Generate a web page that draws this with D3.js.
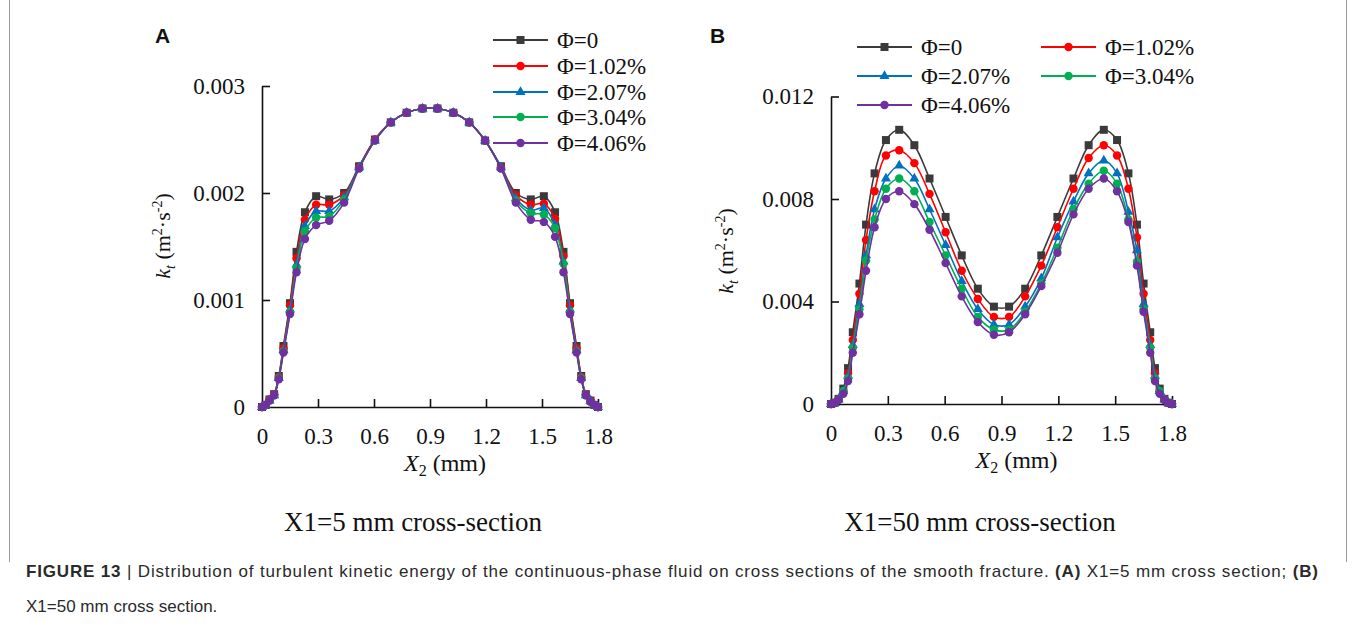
<!DOCTYPE html>
<html>
<head>
<meta charset="utf-8">
<script src="https://cdn.jsdelivr.net/npm/d3@7"></script>
<style>
  body { margin: 0; background: #fff; }
  svg { display: block; }
</style>
</head>
<body>
<div id="fig"></div>
<script>
// X2 positions (mm) shared by both cross-sections
const xGrid = [0, 0.02, 0.04, 0.065, 0.09, 0.115, 0.15, 0.185, 0.23, 0.29, 0.36, 0.44, 0.52, 0.605, 0.69, 0.775, 0.86,
               0.94, 1.025, 1.11, 1.195, 1.28, 1.36, 1.44, 1.51, 1.57, 1.615, 1.65, 1.685, 1.71, 1.735, 1.76, 1.78, 1.8];

const seriesNames = ["Φ=0", "Φ=1.02%", "Φ=2.07%", "Φ=3.04%", "Φ=4.06%"];
const seriesColors = ["#3a3a3a", "#ff0000", "#0070c0", "#00b050", "#7030a0"];
const seriesSymbols = ["square", "circle", "triangle", "circle", "circle"];

// panel A : X1 = 5 mm
const a_phi0   = [0, 0.00002, 0.00007, 0.00012, 0.00029, 0.00057, 0.00097, 0.00145, 0.00182, 0.00197, 0.00194, 0.00200, 0.00225, 0.00250, 0.00266, 0.00275, 0.00279,
                  0.00279, 0.00275, 0.00266, 0.00249, 0.00225, 0.00200, 0.00194, 0.00197, 0.00182, 0.00145, 0.00097, 0.00057, 0.00029, 0.00012, 0.00006, 0.00002, 0];
const a_phi102 = [0, 0.00002, 0.00007, 0.00012, 0.00028, 0.00055, 0.00095, 0.00139, 0.00175, 0.00189, 0.00189, 0.00198, 0.00224, 0.00250, 0.00266, 0.00275, 0.00279,
                  0.00279, 0.00275, 0.00266, 0.00249, 0.00224, 0.00198, 0.00189, 0.00190, 0.00176, 0.00141, 0.00095, 0.00055, 0.00028, 0.00012, 0.00006, 0.00002, 0];
const a_phi207 = [0, 0.00002, 0.00006, 0.00011, 0.00027, 0.00053, 0.00091, 0.00133, 0.00169, 0.00183, 0.00183, 0.00196, 0.00224, 0.00249, 0.00266, 0.00275, 0.00279,
                  0.00279, 0.00275, 0.00266, 0.00249, 0.00224, 0.00195, 0.00184, 0.00186, 0.00170, 0.00136, 0.00091, 0.00053, 0.00027, 0.00011, 0.00006, 0.00002, 0];
const a_phi304 = [0, 0.00002, 0.00006, 0.00011, 0.00027, 0.00052, 0.00089, 0.00130, 0.00164, 0.00177, 0.00178, 0.00194, 0.00223, 0.00249, 0.00266, 0.00275, 0.00279,
                  0.00279, 0.00275, 0.00266, 0.00249, 0.00223, 0.00193, 0.00181, 0.00180, 0.00167, 0.00134, 0.00089, 0.00052, 0.00027, 0.00011, 0.00005, 0.00002, 0];
const a_phi406 = [0, 0.00002, 0.00006, 0.00011, 0.00026, 0.00051, 0.00087, 0.00126, 0.00157, 0.00170, 0.00174, 0.00191, 0.00223, 0.00249, 0.00266, 0.00275, 0.00279,
                  0.00279, 0.00275, 0.00266, 0.00249, 0.00223, 0.00191, 0.00175, 0.00173, 0.00159, 0.00126, 0.00087, 0.00051, 0.00026, 0.00011, 0.00005, 0.00002, 0];

// panel B : X1 = 50 mm
const b_phi0   = [0, 0.00005, 0.0002, 0.0006, 0.0014, 0.0028, 0.0047, 0.0070, 0.0090, 0.0103, 0.0107, 0.0101, 0.0088, 0.0073, 0.0058, 0.0045, 0.0038,
                  0.0038, 0.0045, 0.0058, 0.0073, 0.0088, 0.0101, 0.0107, 0.0103, 0.0090, 0.0070, 0.0047, 0.0028, 0.0014, 0.0006, 0.0002, 0.00005, 0];
const b_phi102 = [0, 0.00005, 0.0002, 0.0005, 0.0012, 0.0025, 0.0043, 0.0064, 0.0083, 0.0097, 0.0099, 0.0094, 0.0082, 0.0067, 0.0052, 0.0041, 0.0034,
                  0.0034, 0.0042, 0.0054, 0.0069, 0.0084, 0.0096, 0.0101, 0.0097, 0.0084, 0.0065, 0.0043, 0.0025, 0.0012, 0.0005, 0.0002, 0.00005, 0];
const b_phi207 = [0, 0.00004, 0.00018, 0.0005, 0.0011, 0.0023, 0.0039, 0.0058, 0.0076, 0.0088, 0.0093, 0.0088, 0.0076, 0.0062, 0.0048, 0.0037, 0.0031,
                  0.0031, 0.0038, 0.0049, 0.0065, 0.0079, 0.0090, 0.0095, 0.0090, 0.0075, 0.0060, 0.0039, 0.0023, 0.0011, 0.0005, 0.00018, 0.00004, 0];
const b_phi304 = [0, 0.00004, 0.00017, 0.0005, 0.0010, 0.0022, 0.0037, 0.0056, 0.0072, 0.0084, 0.0088, 0.0083, 0.0071, 0.0058, 0.0045, 0.0034, 0.0029,
                  0.0029, 0.0036, 0.0047, 0.0061, 0.0076, 0.0086, 0.0091, 0.0086, 0.0072, 0.00555, 0.0037, 0.0022, 0.0010, 0.0005, 0.00017, 0.00004, 0];
const b_phi406 = [0, 0.00004, 0.00016, 0.0004, 0.0009, 0.0020, 0.0035, 0.0052, 0.0069, 0.0080, 0.0083, 0.0078, 0.0068, 0.0055, 0.0042, 0.0032, 0.0027,
                  0.0028, 0.0035, 0.0046, 0.0059, 0.0074, 0.0084, 0.0088, 0.0083, 0.0071, 0.0054, 0.0036, 0.0020, 0.0009, 0.0004, 0.00016, 0.00004, 0];

const xTicks = [0, 0.3, 0.6, 0.9, 1.2, 1.5, 1.8];
const aYTicks = [0, 0.001, 0.002, 0.003];
const bYTicks = [0, 0.004, 0.008, 0.012];

const width = 1356, height = 625;
const serif = "'Liberation Serif', 'Times New Roman', serif";
const sans = "'Liberation Sans', Arial, sans-serif";

let svg = d3.select("#fig")
    .append("svg")
    .attr("width", width)
    .attr("height", height);

// page frame
svg.append("line").attr("x1", 9.5).attr("x2", 9.5).attr("y1", 0).attr("y2", 562)
    .attr("stroke", "#9a9a9a").attr("stroke-width", 1);
svg.append("line").attr("x1", 1346.5).attr("x2", 1346.5).attr("y1", 0).attr("y2", 562)
    .attr("stroke", "#9a9a9a").attr("stroke-width", 1);

const symbolTypes = { square: d3.symbolSquare, circle: d3.symbolCircle, triangle: d3.symbolTriangle };
const symbolSizes = { square: 64, circle: 56, triangle: 44 };

function drawPanel(cfg) {
    let x = d3.scaleLinear().domain([0, 1.8]).range(cfg.xRange);
    let y = d3.scaleLinear().domain([0, cfg.yMax]).range(cfg.yRange);

    let g = svg.append("g");

    let xAxis = g.append("g")
        .attr("transform", `translate(0, ${cfg.yRange[0]})`)
        .call(d3.axisBottom(x).tickValues(xTicks).tickSizeInner(-8).tickSizeOuter(0).tickPadding(21)
            .tickFormat(d => d === 0 ? "0" : d3.format(".1f")(d)));
    let yAxis = g.append("g")
        .attr("transform", `translate(${cfg.xRange[0]}, 0)`)
        .call(d3.axisLeft(y).tickValues(cfg.yTicks).tickSizeInner(-8).tickSizeOuter(0).tickPadding(17)
            .tickFormat(d => d === 0 ? "0" : d3.format(cfg.fmt)(d)));

    [xAxis, yAxis].forEach(ax => {
        ax.select(".domain").attr("stroke", "#111").attr("stroke-width", 1.6);
        ax.selectAll(".tick line").attr("stroke", "#111").attr("stroke-width", 1.6);
        ax.selectAll(".tick text").attr("font-family", serif).attr("font-size", 23).attr("fill", "#111");
    });
    xAxis.selectAll(".tick").filter(d => d === 0).select("line").remove();
    yAxis.selectAll(".tick").filter(d => d === 0).select("line").remove();

    let line = d3.line()
        .x((d, i) => x(xGrid[i]))
        .y(d => y(d))
        .curve(d3.curveCatmullRom.alpha(0.5));

    cfg.series.forEach(function(vals, s) {
        g.append("path")
            .datum(vals)
            .attr("fill", "none")
            .attr("stroke", seriesColors[s])
            .attr("stroke-width", 1.6)
            .attr("d", line);
        let sym = seriesSymbols[s];
        g.append("g")
            .selectAll("path")
            .data(vals)
            .enter()
            .append("path")
            .attr("transform", (d, i) => `translate(${x(xGrid[i])}, ${y(d)})`)
            .attr("d", d3.symbol().type(symbolTypes[sym]).size(symbolSizes[sym]))
            .attr("fill", seriesColors[s]);
    });

    // axis titles
    let xt = g.append("text")
        .attr("x", x(0.9) + 15)
        .attr("y", cfg.yRange[0] + 64)
        .attr("text-anchor", "middle")
        .attr("font-family", serif)
        .attr("font-size", 24)
        .attr("fill", "#111");
    xt.append("tspan").attr("font-style", "italic").text("X");
    xt.append("tspan").attr("font-size", 16).attr("dy", 5).text("2");
    xt.append("tspan").attr("dy", -5).text(" (mm)");

    let yt = g.append("text")
        .attr("transform", `translate(${cfg.yLabelX}, ${cfg.yLabelY}) rotate(-90)`)
        .attr("text-anchor", "middle")
        .attr("font-family", serif)
        .attr("font-size", 22)
        .attr("fill", "#111");
    yt.append("tspan").attr("font-style", "italic").text("k");
    yt.append("tspan").attr("font-style", "italic").attr("font-size", 14).attr("dy", 5).text("t");
    yt.append("tspan").attr("dy", -5).text(" (m");
    yt.append("tspan").attr("font-size", 14).attr("dy", -8).text("2");
    yt.append("tspan").attr("dy", 8).text("·s");
    yt.append("tspan").attr("font-size", 14).attr("dy", -8).text("-2");
    yt.append("tspan").attr("dy", 8).text(")");

    // panel letter
    svg.append("text")
        .attr("x", cfg.letterX).attr("y", 43)
        .attr("font-family", sans).attr("font-weight", "bold").attr("font-size", 21)
        .attr("fill", "#111")
        .text(cfg.letter);

    // subtitle under the panel
    svg.append("text")
        .attr("x", cfg.subX).attr("y", 531)
        .attr("text-anchor", "middle")
        .attr("font-family", serif).attr("font-size", 27)
        .attr("fill", "#111")
        .text(cfg.subtitle);

    // legend
    cfg.legendPos.forEach(function(p, s) {
        let lg = svg.append("g").attr("transform", `translate(${p[0]}, ${p[1]})`);
        lg.append("line").attr("x1", 0).attr("x2", cfg.legendLine)
            .attr("stroke", seriesColors[s]).attr("stroke-width", 1.8);
        let sym = seriesSymbols[s];
        lg.append("path")
            .attr("transform", `translate(${cfg.legendLine / 2}, 0)`)
            .attr("d", d3.symbol().type(symbolTypes[sym]).size(symbolSizes[sym]))
            .attr("fill", seriesColors[s]);
        lg.append("text")
            .attr("x", cfg.legendLine + 9).attr("y", 8)
            .attr("font-family", serif).attr("font-size", 23)
            .attr("fill", "#111")
            .text(seriesNames[s]);
    });
}

drawPanel({
    letter: "A", letterX: 155,
    xRange: [262, 598], yRange: [407, 86], yMax: 0.003, yTicks: aYTicks, fmt: ".3f",
    series: [a_phi0, a_phi102, a_phi207, a_phi304, a_phi406],
    yLabelX: 170, yLabelY: 236,
    subtitle: "X1=5 mm cross-section", subX: 413,
    legendLine: 55,
    legendPos: [[493, 40], [493, 66], [493, 92], [493, 117], [493, 143]]
});

drawPanel({
    letter: "B", letterX: 710,
    xRange: [831, 1172], yRange: [404, 96.5], yMax: 0.012, yTicks: bYTicks, fmt: ".3f",
    series: [b_phi0, b_phi102, b_phi207, b_phi304, b_phi406],
    yLabelX: 733, yLabelY: 251,
    subtitle: "X1=50 mm cross-section", subX: 980,
    legendLine: 55,
    legendPos: [[857, 47], [1041, 47], [857, 76], [1041, 76], [857, 105]]
});

// figure caption (first line stretched to the full text width)
let cap1 = svg.append("text")
    .attr("x", 26).attr("y", 577)
    .attr("font-family", sans).attr("font-size", 17).attr("fill", "#2a2a2a")
    .attr("textLength", 1292)
    .attr("lengthAdjust", "spacing");
cap1.append("tspan").attr("font-weight", "bold").text("FIGURE 13 ");
cap1.append("tspan").text("| ");
cap1.append("tspan").text("Distribution of turbulent kinetic energy of the continuous-phase fluid on cross sections of the smooth fracture. ");
cap1.append("tspan").attr("font-weight", "bold").text("(A)");
cap1.append("tspan").text(" X1=5 mm cross section; ");
cap1.append("tspan").attr("font-weight", "bold").text("(B)");

svg.append("text")
    .attr("x", 26).attr("y", 612)
    .attr("font-family", sans).attr("font-size", 17).attr("fill", "#2a2a2a")
    .text("X1=50 mm cross section.");
</script>
</body>
</html>
